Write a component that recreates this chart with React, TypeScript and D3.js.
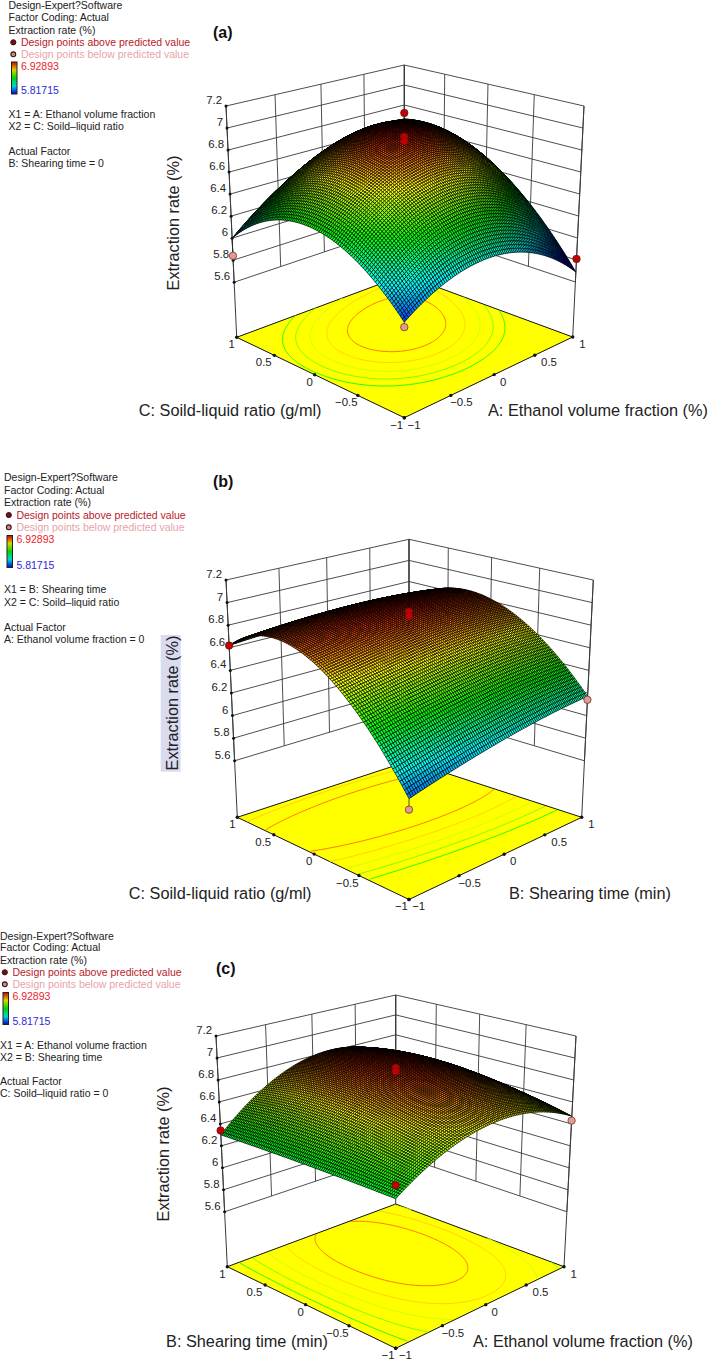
import React, { useMemo } from "react";
import * as d3 from "d3";

// ---------- values ----------
const zTicks = [5.6, 5.8, 6, 6.2, 6.4, 6.6, 6.8, 7, 7.2];
const floorTicks = [-1, -0.5, 0, 0.5, 1];
const floorTickLabels = ["−1", "−0.5", "0", "0.5", "1"];
const contourLevels = [6.4, 6.5, 6.6, 6.7, 6.8];
const legendMax = 6.92893;
const legendMin = 5.81715;

// response height read at the nine design positions (rows: y = -1, 0, 1; cols: x = -1, 0, 1)
const surfaceA = [
  [5.88, 6.13, 5.69],
  [6.37, 6.88, 6.5],
  [6.0, 6.54, 6.66],
];
const surfaceB = [
  [5.93, 6.1, 6.17],
  [6.78, 6.86, 6.82],
  [6.62, 6.66, 6.62],
];
const surfaceC = [
  [6.32, 6.66, 6.47],
  [6.32, 6.87, 6.61],
  [6.3, 6.8, 6.58],
];

// design points: x, y, z, above predicted (1) or below (0), hidden behind the surface (1)
const pointsA = [
  [1, 1, 6.72, 1, 1],
  [-1, 1, 5.84, 0, 0],
  [1, -1, 5.81, 1, 0],
  [0, 0, 6.92, 1, 0],
  [0, 0, 6.88, 1, 0],
  [-1, -1, 5.84, 0, 0],
];
const pointsB = [
  [1, 1, 6.65, 1, 1],
  [-1, 1, 6.62, 1, 0],
  [1, -1, 6.14, 0, 0],
  [0, 0, 6.92, 1, 0],
  [0, 0, 6.88, 1, 0],
  [-1, -1, 5.84, 0, 0],
];
const pointsC = [
  [-1, 1, 6.34, 1, 0],
  [1, -1, 6.43, 0, 0],
  [0, 0, 6.91, 1, 0],
  [0, 0, 6.88, 1, 0],
  [-1, -1, 6.43, 1, 0],
];

const legendTextA = ["X1 = A: Ethanol volume fraction", "X2 = C: Soild–liquid ratio", "Actual Factor", "B: Shearing time = 0"];
const legendTextB = ["X1 = B: Shearing time", "X2 = C: Soild–liquid ratio", "Actual Factor", "A: Ethanol volume fraction = 0"];
const legendTextC = ["X1 = A: Ethanol volume fraction", "X2 = B: Shearing time", "Actual Factor", "C: Soild–liquid ratio = 0"];
const headerText = ["Design-Expert?Software", "Factor Coding: Actual", "Extraction rate (%)"];

// ---------- layout ----------
type P = [number, number];
const FONT = "'Liberation Sans', Arial, sans-serif";
const Z0 = 5.1;
const MESH = 95;
const LEGEND_FS = 10.5;
const TITLE_FS = 16.3;

const panels = [
  {
    title: "(a)", titleX: 213, titleY: 32, surface: surfaceA, points: pointsA, legend: legendTextA,
    floor: { F: [404.3, 417.7], R: [572.7, 337], B: [404.3, 275], L: [236.7, 337.3] },
    top: { F: [404.3, 160.7], R: [584, 106], B: [404.3, 65], L: [226, 106] },
    legendX: 8.5, legendY: [5.7, 17.7, 30, 42.3, 54.3, 66, 90.3, 114.7, 126.7, 151, 163.3],
    barY: [62, 94],
    zTitle: [173, 223], highlight: false,
    xTitle: "A: Ethanol volume fraction (%)", xTitleX: 488, yTitle: "C: Soild-liquid ratio (g/ml)", yTitleEnd: 321.5, titleRowY: 410.7,
  },
  {
    title: "(b)", titleX: 213, titleY: 481.7, surface: surfaceB, points: pointsB, legend: legendTextB,
    floor: { F: [409, 899.5], R: [581.7, 817.3], B: [409, 761], L: [237.3, 817.3] },
    top: { F: [409, 644.5], R: [593.3, 580], B: [409, 539.3], L: [226, 580] },
    legendX: 4, legendY: [477.7, 490, 502.7, 515, 527.3, 539.7, 565, 589.7, 602, 627, 639.3],
    barY: [535.5, 567.5],
    zTitle: [172, 703], highlight: true,
    xTitle: "B: Shearing time (min)", xTitleX: 509, yTitle: "C: Soild-liquid ratio (g/ml)", yTitleEnd: 311.5, titleRowY: 893,
  },
  {
    title: "(c)", titleX: 216, titleY: 968, surface: surfaceC, points: pointsC, legend: legendTextC,
    floor: { F: [395.7, 1348.3], R: [564, 1266.7], B: [395.7, 1204], L: [227.3, 1266.7] },
    top: { F: [395.7, 1090.9], R: [576, 1036], B: [395.7, 995], L: [216, 1036] },
    legendX: 0, legendY: [936, 947.7, 960, 972.3, 984.3, 996.7, 1021, 1045, 1057.3, 1081.7, 1093.7],
    barY: [992.5, 1024.5],
    zTitle: [163, 1154], highlight: false,
    xTitle: "A: Ethanol volume fraction (%)", xTitleX: 473, yTitle: "B: Shearing time (min)", yTitleEnd: 328, titleRowY: 1341,
  },
];

// label centre offsets from the tick dots on the two floor edges
const leftLabelDx = [-7.6, -11.6, -5, -10.6, -5];
const rightLabelDx = [9.7, 10.6, 9, 14.3, 9.6];

// ---------- helpers ----------
const colorScale = d3
  .scaleLinear<string>()
  .domain(d3.range(5).map((i) => legendMin + (i * (legendMax - legendMin)) / 4))
  .range(["#0000ff", "#00ffff", "#00ff00", "#ffff00", "#ff0000"])
  .interpolate(d3.interpolateRgb)
  .clamp(true);

const zFrac = d3.scaleLinear().domain([Z0, 7.2]).range([0, 1]);
const uvScale = d3.scaleLinear().domain([-1, 1]).range([0, 1]);

function homography(p0: number[], p1: number[], p2: number[], p3: number[]) {
  const [x0, y0] = p0, [x1, y1] = p1, [x2, y2] = p2, [x3, y3] = p3;
  const dx1 = x1 - x2, dx2 = x3 - x2, sx = x0 - x1 + x2 - x3;
  const dy1 = y1 - y2, dy2 = y3 - y2, sy = y0 - y1 + y2 - y3;
  const den = dx1 * dy2 - dx2 * dy1;
  const g = (sx * dy2 - dx2 * sy) / den;
  const h = (dx1 * sy - sx * dy1) / den;
  const a = x1 - x0 + g * x1, b = x3 - x0 + h * x3;
  const d = y1 - y0 + g * y1, e = y3 - y0 + h * y3;
  return (x: number, y: number): P => {
    const u = uvScale(x), v = uvScale(y);
    const w = g * u + h * v + 1;
    return [(a * u + b * v + x0) / w, (d * u + e * v + y0) / w];
  };
}

const basis = (t: number) => [(t * (t - 1)) / 2, 1 - t * t, (t * (t + 1)) / 2];
function height(grid: number[][], x: number, y: number) {
  const bx = basis(x), by = basis(y);
  let s = 0;
  for (let j = 0; j < 3; j++) for (let i = 0; i < 3; i++) s += by[j] * bx[i] * grid[j][i];
  return s;
}

const TextC = ({ x, y, size, fill = "#222", weight, anchor, children }: any) => (
  <text x={x} y={y + size * 0.35} fontSize={size} fill={fill} fontWeight={weight} textAnchor={anchor} fontFamily={FONT}>
    {children}
  </text>
);

function Panel({ cfg }: { cfg: (typeof panels)[number] }) {
  const { floorH, project, cells, contours } = useMemo(() => {
    const floorH = homography(cfg.floor.F, cfg.floor.R, cfg.floor.B, cfg.floor.L);
    const topH = homography(cfg.top.F, cfg.top.R, cfg.top.B, cfg.top.L);
    const project = (x: number, y: number, z: number): P => {
      const a = floorH(x, y), b = topH(x, y), t = zFrac(z);
      return [a[0] + (b[0] - a[0]) * t, a[1] + (b[1] - a[1]) * t];
    };
    const coord = d3.scaleLinear().domain([0, MESH]).range([-1, 1]);
    const cells: { d: string; fill: string; k: number }[] = [];
    for (let j = 0; j < MESH; j++)
      for (let i = 0; i < MESH; i++) {
        const corners = [
          [coord(i), coord(j)],
          [coord(i + 1), coord(j)],
          [coord(i + 1), coord(j + 1)],
          [coord(i), coord(j + 1)],
        ];
        const zs = corners.map(([x, y]) => height(cfg.surface, x, y));
        const pts = corners.map(([x, y], n) => project(x, y, zs[n]));
        cells.push({
          d: "M" + pts.map((p) => `${p[0].toFixed(2)},${p[1].toFixed(2)}`).join("L") + "Z",
          fill: colorScale(d3.mean(zs) as number),
          k: i + j,
        });
      }
    cells.sort((a, b) => b.k - a.k);

    const n = 121;
    const values = new Array(n * n);
    const g = d3.scaleLinear().domain([0, n - 1]).range([-1, 1]);
    for (let j = 0; j < n; j++) for (let i = 0; i < n; i++) values[j * n + i] = height(cfg.surface, g(i), g(j));
    const contourGen = d3.contours().size([n, n]).thresholds(contourLevels);
    const line = d3
      .line<number[]>()
      .defined((p) => p[0] > 0.51 && p[0] < n - 0.51 && p[1] > 0.51 && p[1] < n - 0.51)
      .x((p) => floorH(g(p[0] - 0.5), g(p[1] - 0.5))[0])
      .y((p) => floorH(g(p[0] - 0.5), g(p[1] - 0.5))[1]);
    const contours = contourGen(values).map((c) => ({
      value: c.value,
      d: c.coordinates.flat().map((ring) => line(ring as number[][])).join(""),
    }));
    return { floorH, project, cells, contours };
  }, [cfg]);

  const wall = "#3a3a3a";
  const ln = (a: P, b: P, key: string, w = 0.9, c = wall) => (
    <line key={key} x1={a[0]} y1={a[1]} x2={b[0]} y2={b[1]} stroke={c} strokeWidth={w} />
  );
  const floorPoly = [[-1, -1], [1, -1], [1, 1], [-1, 1]].map(([x, y]) => floorH(x, y));
  const lowest = zTicks[0];
  const topZ = zTicks[zTicks.length - 1];

  const dot = (p: number[], i: number) => {
    const q = project(p[0], p[1], p[2]);
    const above = p[3] === 1;
    const s = project(p[0], p[1], height(cfg.surface, p[0], p[1]));
    return (
      <g key={i}>
        {!above && <line x1={q[0]} y1={q[1]} x2={s[0]} y2={s[1]} stroke="#222" strokeWidth={0.8} />}
        <circle cx={q[0]} cy={q[1]} r={3.7} fill={above ? "#c40000" : "#e59a90"} stroke={above ? "#6a1010" : "#6a3a30"} strokeWidth={0.8} />
      </g>
    );
  };

  return (
    <g>
      {/* legend */}
      {headerText.map((t, i) => (
        <TextC key={t} x={cfg.legendX} y={cfg.legendY[i]} size={LEGEND_FS}>{t}</TextC>
      ))}
      <circle cx={cfg.legendX + 4.8} cy={cfg.legendY[3]} r={2.6} fill="#7a0a14" stroke="#2a1010" strokeWidth={0.9} />
      <circle cx={cfg.legendX + 4.8} cy={cfg.legendY[4]} r={2.4} fill="#d88a80" stroke="#2a1515" strokeWidth={1.1} />
      <TextC x={cfg.legendX + 12.4} y={cfg.legendY[3]} size={LEGEND_FS} fill="#b81a28">Design points above predicted value</TextC>
      <TextC x={cfg.legendX + 12.4} y={cfg.legendY[4]} size={LEGEND_FS} fill="#e8a3a8">Design points below predicted value</TextC>
      <defs>
        <linearGradient id={"bar" + cfg.title[1]} x1="0" x2="0" y1="0" y2="1">
          {d3.range(5).map((i) => (
            <stop key={i} offset={`${i * 25}%`} stopColor={d3.color(colorScale(legendMax - (i * (legendMax - legendMin)) / 4))!.darker(0.5).formatHex()} />
          ))}
        </linearGradient>
      </defs>
      <rect x={cfg.legendX + 3} y={cfg.barY[0]} width={5.5} height={cfg.barY[1] - cfg.barY[0]} fill={`url(#bar${cfg.title[1]})`} stroke="#222" strokeWidth={1} />
      <TextC x={cfg.legendX + 12.4} y={cfg.legendY[5]} size={LEGEND_FS} fill="#e8242c">{legendMax}</TextC>
      <TextC x={cfg.legendX + 12.4} y={cfg.legendY[6]} size={LEGEND_FS} fill="#2a2ad8">{legendMin}</TextC>
      {cfg.legend.map((t, i) => (
        <TextC key={t} x={cfg.legendX} y={cfg.legendY[7 + i]} size={LEGEND_FS}>{t}</TextC>
      ))}

      <TextC x={cfg.titleX} y={cfg.titleY} size={16} weight="bold" fill="#111">{cfg.title}</TextC>

      {/* walls */}
      {zTicks.map((z) => (
        <g key={z}>
          {ln(project(-1, 1, z), project(1, 1, z), "a" + z)}
          {ln(project(1, -1, z), project(1, 1, z), "b" + z)}
        </g>
      ))}
      {floorTicks.map((t) => (
        <g key={t}>
          {ln(project(t, 1, lowest), project(t, 1, topZ), "c" + t)}
          {ln(project(1, t, lowest), project(1, t, topZ), "d" + t)}
        </g>
      ))}
      {ln(project(-1, 1, Z0), project(-1, 1, topZ), "le", 1)}
      {ln(project(1, -1, Z0), project(1, -1, topZ), "re", 1)}
      {ln(project(1, 1, Z0), project(1, 1, topZ), "be", 1)}

      {/* floor with contours */}
      <polygon points={floorPoly.map((p) => p.join(",")).join(" ")} fill="#ffff00" stroke="#111" strokeWidth={1} />
      {contours.map((c) => (
        <path key={c.value} d={c.d} fill="none" stroke={colorScale(c.value)} strokeWidth={1} />
      ))}

      {/* floor ticks */}
      {floorTicks.map((t, i) => {
        const a = floorH(-1, t), b = floorH(t, -1);
        return (
          <g key={t}>
            <circle cx={a[0]} cy={a[1]} r={1.7} fill="#111" />
            <circle cx={b[0]} cy={b[1]} r={1.7} fill="#111" />
            <TextC x={a[0] + leftLabelDx[i]} y={a[1] + 7} size={11.4} anchor="middle">{floorTickLabels[i]}</TextC>
            <TextC x={b[0] + rightLabelDx[i]} y={b[1] + 7} size={11.4} anchor="middle">{floorTickLabels[i]}</TextC>
          </g>
        );
      })}

      {/* z ticks */}
      {zTicks.map((z) => {
        const p = project(-1, 1, z);
        return (
          <g key={z}>
            <circle cx={p[0]} cy={p[1]} r={1.5} fill="#111" />
            <TextC x={p[0] - 4} y={p[1] - 6} size={11.4} anchor="end">{String(z)}</TextC>
          </g>
        );
      })}

      {/* design points behind the surface */}
      {cfg.points.filter((p) => p[4] === 1).map(dot)}

      {/* surface */}
      <g stroke="#000" strokeWidth={0.68} strokeLinejoin="round">
        {cells.map((c, i) => (
          <path key={i} d={c.d} fill={c.fill} />
        ))}
      </g>

      {/* design points in front */}
      {cfg.points.filter((p) => p[4] === 0).map(dot)}

      {/* axis titles */}
      {cfg.highlight && (
        <rect x={160.7} y={635} width={20} height={136.7} fill="#d9dcf1" />
      )}
      <g transform={`translate(${cfg.zTitle[0]},${cfg.zTitle[1]}) rotate(-90)`}>
        <TextC x={0} y={0} size={TITLE_FS} anchor="middle">Extraction rate (%)</TextC>
      </g>
      <TextC x={cfg.yTitleEnd} y={cfg.titleRowY} size={TITLE_FS} anchor="end">{cfg.yTitle}</TextC>
      <TextC x={cfg.xTitleX} y={cfg.titleRowY} size={TITLE_FS}>{cfg.xTitle}</TextC>
    </g>
  );
}

export default function App() {
  return (
    <svg
      width={709}
      height={1363}
      viewBox="0 0 709 1363"
      style={{ position: "absolute", left: 0, top: 0, display: "block", background: "#fff" }}
    >
      {panels.map((cfg) => (
        <Panel key={cfg.title} cfg={cfg} />
      ))}
    </svg>
  );
}
